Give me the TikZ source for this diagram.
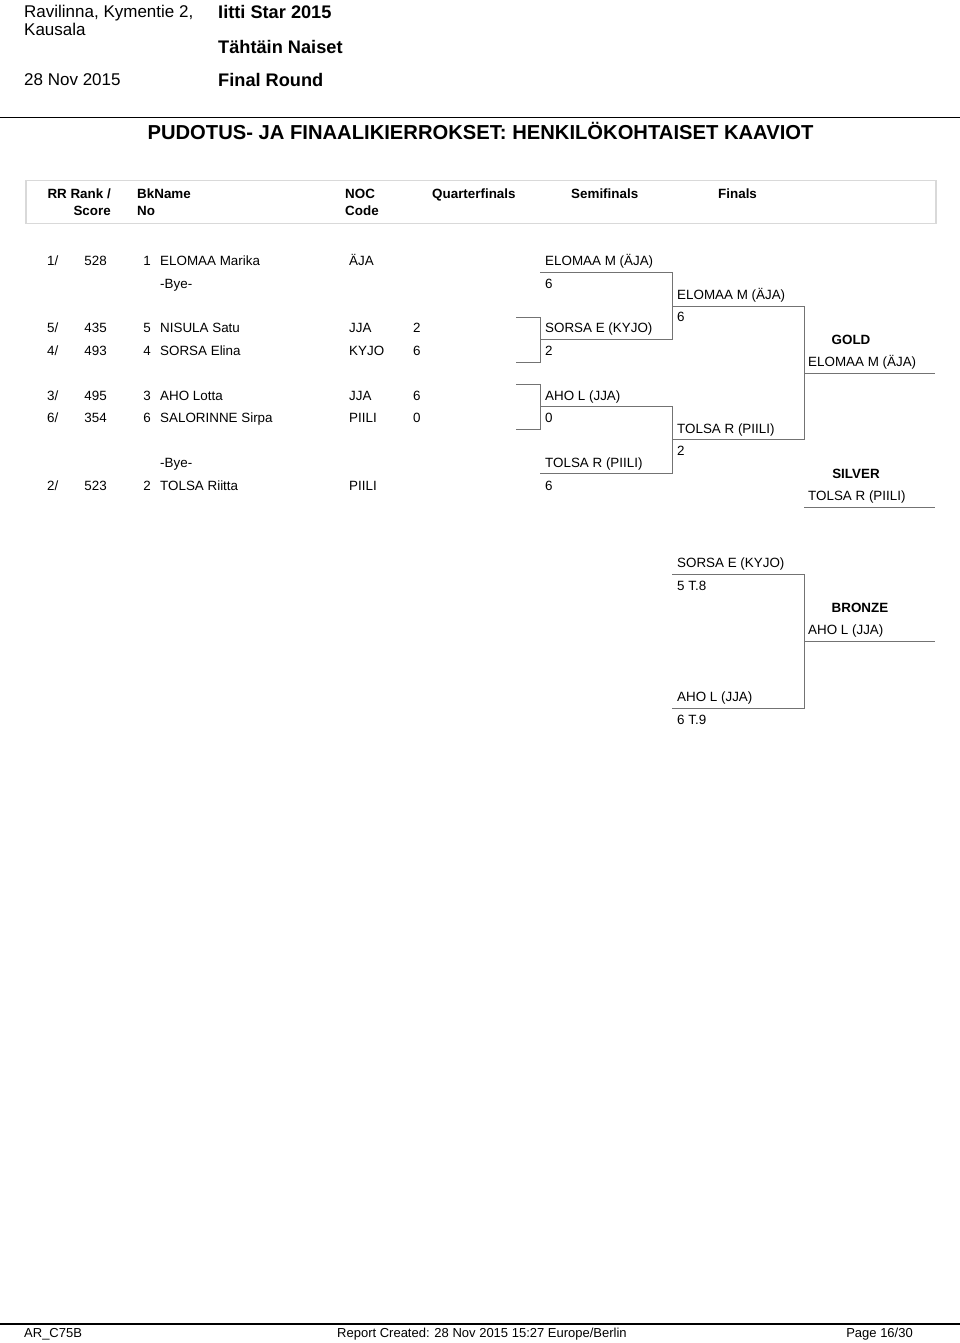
\documentclass[tikz,border=0pt]{standalone}
\usepackage{fontspec}
\setmainfont{Liberation Sans}
\begin{document}
\begin{tikzpicture}[x=1pt,y=-1pt,
  txt/.style={inner sep=0pt, anchor=base west, font=\fontsize{13.4}{16}\selectfont},
  txtr/.style={txt, anchor=base east},
  txtb/.style={txt, font=\fontsize{13.4}{16}\selectfont\bfseries},
  txtbr/.style={txtb, anchor=base east},
  medal/.style={inner sep=0pt, anchor=base, font=\fontsize{13.4}{16}\selectfont\bfseries},
  hd/.style={inner sep=0pt, anchor=base west, font=\fontsize{17}{20}\selectfont},
  hdb/.style={inner sep=0pt, anchor=base west, font=\fontsize{18.2}{22}\selectfont\bfseries},
  ttl/.style={inner sep=0pt, anchor=base, font=\fontsize{20.2}{24}\selectfont\bfseries},
  ft/.style={inner sep=0pt, anchor=base west, font=\fontsize{13}{16}\selectfont},
  ftr/.style={ft, anchor=base east},
  brk/.style={draw=black!55, line width=1pt},
  hrule/.style={draw=black, line width=1.6pt},
]
\useasboundingbox (0,0) rectangle (960,1343);
\fill[white] (0,0) rectangle (960,1343);

% ---------- page header ----------
\node[hd] (venue1) at (24,18) {Ravilinna, Kymentie 2,};
\node[hd] (venue2) at (24,36) {Kausala};
\node[hd] (date) at (24,86) {28 Nov 2015};
\node[hdb] (event) at (218,18.5) {Iitti Star 2015};
\node[hdb] (cat) at (218,53.5) {Tähtäin Naiset};
\node[hdb] (round) at (218,86.5) {Final Round};
\coordinate (ruleL) at (0,117.7);
\coordinate (ruleR) at (960,117.7);
\draw[hrule] (ruleL) -- (ruleR);
\node[ttl] (title) at (480.5,140) {PUDOTUS- JA FINAALIKIERROKSET: HENKILÖKOHTAISET KAAVIOT};

% ---------- column header box ----------
\node[draw=black!15, line width=1.5pt, inner sep=0pt, minimum width=910pt, minimum height=42.7pt, anchor=north west] (hbox) at (25,180) {};
\node[txtbr] (h1) at (111,198.8) {RR Rank /};
\node[txtbr] (h1b) at (111,215.5) {Score};
\node[txtb] (h2) at (137,198.8) {BkName};
\node[txtb] (h2b) at (137,215.5) {No};
\node[txtb] (h3) at (345,198.8) {NOC};
\node[txtb] (h3b) at (345,215.5) {Code};
\node[txtb] (h4) at (432,198.8) {Quarterfinals};
\node[txtb] (h5) at (571,198.8) {Semifinals};
\node[txtb] (h6) at (718,198.8) {Finals};

% ---------- entries ----------
% row 1
\node[txt] (r1a) at (47,265.8) {1/};
\node[txtr] (r1b) at (107,265.8) {528};
\node[txtr] (r1c) at (151,265.8) {1};
\node[txt] (r1d) at (160,265.8) {ELOMAA Marika};
\node[txt] (r1e) at (349,265.8) {ÄJA};
\node[txt] (bye1) at (160,288.8) {-Bye-};
% row 5
\node[txt] (r5a) at (47,332.8) {5/};
\node[txtr] (r5b) at (107,332.8) {435};
\node[txtr] (r5c) at (151,332.8) {5};
\node[txt] (r5d) at (160,332.8) {NISULA Satu};
\node[txt] (r5e) at (349,332.8) {JJA};
\node[txt] (r5f) at (413,332.8) {2};
% row 4
\node[txt] (r4a) at (47,355.8) {4/};
\node[txtr] (r4b) at (107,355.8) {493};
\node[txtr] (r4c) at (151,355.8) {4};
\node[txt] (r4d) at (160,355.8) {SORSA Elina};
\node[txt] (r4e) at (349,355.8) {KYJO};
\node[txt] (r4f) at (413,355.8) {6};
% row 3
\node[txt] (r3a) at (47,400.8) {3/};
\node[txtr] (r3b) at (107,400.8) {495};
\node[txtr] (r3c) at (151,400.8) {3};
\node[txt] (r3d) at (160,400.8) {AHO Lotta};
\node[txt] (r3e) at (349,400.8) {JJA};
\node[txt] (r3f) at (413,400.8) {6};
% row 6
\node[txt] (r6a) at (47,422.8) {6/};
\node[txtr] (r6b) at (107,422.8) {354};
\node[txtr] (r6c) at (151,422.8) {6};
\node[txt] (r6d) at (160,422.8) {SALORINNE Sirpa};
\node[txt] (r6e) at (349,422.8) {PIILI};
\node[txt] (r6f) at (413,422.8) {0};
% bye + row 2
\node[txt] (bye2) at (160,467.8) {-Bye-};
\node[txt] (r2a) at (47,490.8) {2/};
\node[txtr] (r2b) at (107,490.8) {523};
\node[txtr] (r2c) at (151,490.8) {2};
\node[txt] (r2d) at (160,490.8) {TOLSA Riitta};
\node[txt] (r2e) at (349,490.8) {PIILI};

% ---------- bracket coordinates ----------
\coordinate (b1t0) at (516,317.3); \coordinate (b1t1) at (540,317.3);
\coordinate (b1b0) at (516,362);   \coordinate (b1b1) at (540,362);
\coordinate (b2t0) at (516,384.3); \coordinate (b2t1) at (540,384.3);
\coordinate (b2b0) at (516,429);   \coordinate (b2b1) at (540,429);
\coordinate (q1a) at (540,272.7); \coordinate (q1b) at (672,272.7);
\coordinate (q2a) at (540,339.3); \coordinate (q2b) at (672,339.3);
\coordinate (q3a) at (540,406.7); \coordinate (q3b) at (672,406.7);
\coordinate (q4a) at (540,473.3); \coordinate (q4b) at (672,473.3);
\coordinate (s1a) at (672,306.2); \coordinate (s1b) at (804,306.2);
\coordinate (s2a) at (672,439.8); \coordinate (s2b) at (804,439.8);
\coordinate (ga) at (804,373.3); \coordinate (gb) at (935,373.3);
\coordinate (sa) at (804,507.3); \coordinate (sb) at (935,507.3);
\coordinate (z1a) at (672,574.3); \coordinate (z1b) at (804,574.3);
\coordinate (z2a) at (672,708.3); \coordinate (z2b) at (804,708.3);
\coordinate (za) at (804,641.3); \coordinate (zb) at (935,641.3);

\draw[brk] (b1t0) -- (b1t1) -- (b1b1) -- (b1b0);
\draw[brk] (b2t0) -- (b2t1) -- (b2b1) -- (b2b0);
\draw[brk] (q1a) -- (q1b) -- (q2b) -- (q2a);
\draw[brk] (q3a) -- (q3b) -- (q4b) -- (q4a);
\draw[brk] (s1a) -- (s1b) -- (s2b) -- (s2a);
\draw[brk] (ga) -- (gb);
\draw[brk] (sa) -- (sb);
\draw[brk] (z1a) -- (z1b) -- (z2b) -- (z2a);
\draw[brk] (za) -- (zb);

% ---------- quarterfinal labels ----------
\node[txt] (q1n) at (545,265.8) {ELOMAA M (ÄJA)};
\node[txt] (q1s) at (545,288.8) {6};
\node[txt] (q2n) at (545,332.8) {SORSA E (KYJO)};
\node[txt] (q2s) at (545,355.8) {2};
\node[txt] (q3n) at (545,400.8) {AHO L (JJA)};
\node[txt] (q3s) at (545,422.8) {0};
\node[txt] (q4n) at (545,467.3) {TOLSA R (PIILI)};
\node[txt] (q4s) at (545,490.3) {6};

% ---------- semifinal labels ----------
\node[txt] (s1n) at (677,299.8) {ELOMAA M (ÄJA)};
\node[txt] (s1s) at (677,321.8) {6};
\node[txt] (s2n) at (677,433.6) {TOLSA R (PIILI)};
\node[txt] (s2s) at (677,455.6) {2};

% ---------- finals ----------
\node[medal] (gold) at (851,344.8) {GOLD};
\node[txt] (goldn) at (808,366.8) {ELOMAA M (ÄJA)};
\node[medal] (silver) at (856,478.8) {SILVER};
\node[txt] (silvern) at (808,500.8) {TOLSA R (PIILI)};

% ---------- bronze match ----------
\node[txt] (z1n) at (677,567.8) {SORSA E (KYJO)};
\node[txt] (z1s) at (677,590.8) {5 T.8};
\node[txt] (z2n) at (677,701.8) {AHO L (JJA)};
\node[txt] (z2s) at (677,724.8) {6 T.9};
\node[medal] (bronze) at (860,612.8) {BRONZE};
\node[txt] (bronzen) at (808,634.8) {AHO L (JJA)};

% ---------- footer ----------
\coordinate (fruleL) at (0,1324);
\coordinate (fruleR) at (960,1324);
\draw[hrule] (fruleL) -- (fruleR);
\node[ft] (f1) at (24,1337.7) {AR\_C75B};
\node[ft] (f2) at (337,1337.7) {Report Created: 28 Nov 2015 15:27 Europe/Berlin};
\node[ftr] (f3) at (913,1337.7) {Page 16/30};
\end{tikzpicture}
\end{document}
